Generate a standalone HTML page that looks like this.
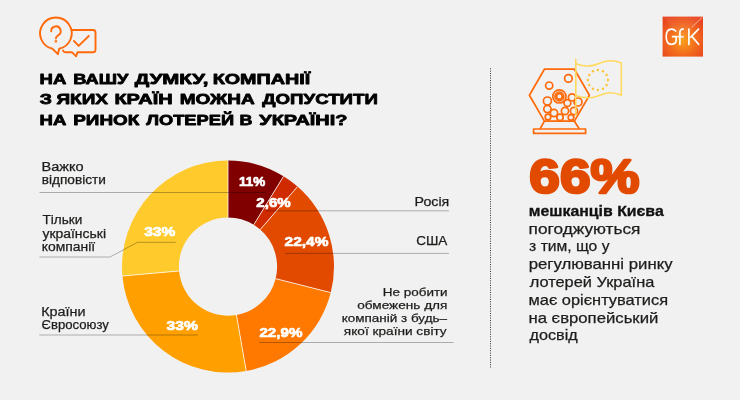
<!DOCTYPE html>
<html lang="uk"><head><meta charset="utf-8"><title>GfK</title>
<style>html,body{margin:0;padding:0;background:#f1f1f1;}body{width:740px;height:400px;overflow:hidden;font-family:"Liberation Sans",sans-serif;}svg{display:block;will-change:transform;}text{font-family:"Liberation Sans",sans-serif;}</style>
</head><body>
<svg width="740" height="400" viewBox="0 0 740 400">
<defs><radialGradient id="gfk" cx="50%" cy="60%" r="65%"><stop offset="0" stop-color="#f9a01b"/><stop offset="0.55" stop-color="#f26a1e"/><stop offset="1" stop-color="#e8451e"/></radialGradient></defs>
<rect width="740" height="400" fill="#f1f1f1"/>
<path d="M228.00 160.60A106.00 106.00 0 0 1 283.54 176.32L253.73 224.78A49.10 49.10 0 0 0 228.00 217.50Z" fill="#800000"/>
<path d="M283.54 176.32A106.00 106.00 0 0 1 297.54 186.60L260.21 229.54A49.10 49.10 0 0 0 253.73 224.78Z" fill="#cf2a00"/>
<path d="M297.54 186.60A106.00 106.00 0 0 1 330.76 292.60L275.60 278.64A49.10 49.10 0 0 0 260.21 229.54Z" fill="#e24a00"/>
<path d="M330.76 292.60A106.00 106.00 0 0 1 246.22 371.02L236.44 314.97A49.10 49.10 0 0 0 275.60 278.64Z" fill="#ff7800"/>
<path d="M246.22 371.02A106.00 106.00 0 0 1 122.42 276.02L179.09 270.96A49.10 49.10 0 0 0 236.44 314.97Z" fill="#ffa000"/>
<path d="M122.42 276.02A106.00 106.00 0 0 1 228.00 160.60L228.00 217.50A49.10 49.10 0 0 0 179.09 270.96Z" fill="#ffca2c"/>
<line x1="228.00" y1="160.60" x2="228.00" y2="217.50" stroke="#fff" stroke-width="0.9" stroke-opacity="0.85"/>
<line x1="283.54" y1="176.32" x2="253.73" y2="224.78" stroke="#fff" stroke-width="0.9" stroke-opacity="0.85"/>
<line x1="297.54" y1="186.60" x2="260.21" y2="229.54" stroke="#fff" stroke-width="0.9" stroke-opacity="0.85"/>
<line x1="330.76" y1="292.60" x2="275.60" y2="278.64" stroke="#fff" stroke-width="0.9" stroke-opacity="0.85"/>
<line x1="246.22" y1="371.02" x2="236.44" y2="314.97" stroke="#fff" stroke-width="0.9" stroke-opacity="0.85"/>
<line x1="122.42" y1="276.02" x2="179.09" y2="270.96" stroke="#fff" stroke-width="0.9" stroke-opacity="0.85"/>
<path d="M39.5 192.5H265.8" stroke="#000" stroke-width="0.8" stroke-opacity="0.36" fill="none"/>
<path d="M39.4 257H110L137.5 242.3H175.7" stroke="#000" stroke-width="0.8" stroke-opacity="0.36" fill="none"/>
<path d="M39.3 335H197.8" stroke="#000" stroke-width="0.8" stroke-opacity="0.36" fill="none"/>
<path d="M265.8 210.8H449" stroke="#000" stroke-width="0.8" stroke-opacity="0.36" fill="none"/>
<path d="M285 253.4H449" stroke="#000" stroke-width="0.8" stroke-opacity="0.36" fill="none"/>
<path d="M259.4 342.5H453.6" stroke="#000" stroke-width="0.8" stroke-opacity="0.36" fill="none"/>
<text x="39.53" y="83.50" font-size="15.00" font-weight="bold" fill="#000" textLength="26.77" lengthAdjust="spacingAndGlyphs" stroke="#000" stroke-width="0.80" stroke-linejoin="round">НА</text>
<text x="73.29" y="83.50" font-size="15.00" font-weight="bold" fill="#000" textLength="54.98" lengthAdjust="spacingAndGlyphs" stroke="#000" stroke-width="0.80" stroke-linejoin="round">ВАШУ</text>
<text x="134.89" y="83.50" font-size="15.00" font-weight="bold" fill="#000" textLength="73.54" lengthAdjust="spacingAndGlyphs" stroke="#000" stroke-width="0.80" stroke-linejoin="round">ДУМКУ,</text>
<text x="212.70" y="83.50" font-size="15.00" font-weight="bold" fill="#000" textLength="97.55" lengthAdjust="spacingAndGlyphs" stroke="#000" stroke-width="0.80" stroke-linejoin="round">КОМПАНІЇ</text>
<text x="39.75" y="104.30" font-size="15.00" font-weight="bold" fill="#000" textLength="12.18" lengthAdjust="spacingAndGlyphs" stroke="#000" stroke-width="0.80" stroke-linejoin="round">З</text>
<text x="56.42" y="104.30" font-size="15.00" font-weight="bold" fill="#000" textLength="51.56" lengthAdjust="spacingAndGlyphs" stroke="#000" stroke-width="0.80" stroke-linejoin="round">ЯКИХ</text>
<text x="114.41" y="104.30" font-size="15.00" font-weight="bold" fill="#000" textLength="58.21" lengthAdjust="spacingAndGlyphs" stroke="#000" stroke-width="0.80" stroke-linejoin="round">КРАЇН</text>
<text x="179.73" y="104.30" font-size="15.00" font-weight="bold" fill="#000" textLength="75.05" lengthAdjust="spacingAndGlyphs" stroke="#000" stroke-width="0.80" stroke-linejoin="round">МОЖНА</text>
<text x="262.26" y="104.30" font-size="15.00" font-weight="bold" fill="#000" textLength="115.58" lengthAdjust="spacingAndGlyphs" stroke="#000" stroke-width="0.80" stroke-linejoin="round">ДОПУСТИТИ</text>
<text x="39.53" y="125.10" font-size="15.00" font-weight="bold" fill="#000" textLength="26.77" lengthAdjust="spacingAndGlyphs" stroke="#000" stroke-width="0.80" stroke-linejoin="round">НА</text>
<text x="73.24" y="125.10" font-size="15.00" font-weight="bold" fill="#000" textLength="66.04" lengthAdjust="spacingAndGlyphs" stroke="#000" stroke-width="0.80" stroke-linejoin="round">РИНОК</text>
<text x="146.17" y="125.10" font-size="15.00" font-weight="bold" fill="#000" textLength="87.88" lengthAdjust="spacingAndGlyphs" stroke="#000" stroke-width="0.80" stroke-linejoin="round">ЛОТЕРЕЙ</text>
<text x="239.44" y="125.10" font-size="15.00" font-weight="bold" fill="#000" textLength="12.89" lengthAdjust="spacingAndGlyphs" stroke="#000" stroke-width="0.80" stroke-linejoin="round">В</text>
<text x="259.32" y="125.10" font-size="15.00" font-weight="bold" fill="#000" textLength="88.06" lengthAdjust="spacingAndGlyphs" stroke="#000" stroke-width="0.80" stroke-linejoin="round">УКРАЇНІ?</text>
<text x="41.59" y="170.50" font-size="12.30" font-weight="normal" fill="#1d1d1b" textLength="42.10" lengthAdjust="spacingAndGlyphs" stroke="#1d1d1b" stroke-width="0.25" stroke-linejoin="round">Важко</text>
<text x="41.72" y="183.75" font-size="12.30" font-weight="normal" fill="#1d1d1b" textLength="64.16" lengthAdjust="spacingAndGlyphs" stroke="#1d1d1b" stroke-width="0.25" stroke-linejoin="round">відповісти</text>
<text x="42.44" y="223.80" font-size="12.30" font-weight="normal" fill="#1d1d1b" textLength="39.77" lengthAdjust="spacingAndGlyphs" stroke="#1d1d1b" stroke-width="0.25" stroke-linejoin="round">Тільки</text>
<text x="42.41" y="237.50" font-size="12.30" font-weight="normal" fill="#1d1d1b" textLength="63.60" lengthAdjust="spacingAndGlyphs" stroke="#1d1d1b" stroke-width="0.25" stroke-linejoin="round">українські</text>
<text x="41.70" y="250.60" font-size="12.30" font-weight="normal" fill="#1d1d1b" textLength="53.39" lengthAdjust="spacingAndGlyphs" stroke="#1d1d1b" stroke-width="0.25" stroke-linejoin="round">компанії</text>
<text x="41.21" y="315.50" font-size="12.30" font-weight="normal" fill="#1d1d1b" textLength="44.35" lengthAdjust="spacingAndGlyphs" stroke="#1d1d1b" stroke-width="0.25" stroke-linejoin="round">Країни</text>
<text x="41.56" y="328.90" font-size="12.30" font-weight="normal" fill="#1d1d1b" textLength="67.38" lengthAdjust="spacingAndGlyphs" stroke="#1d1d1b" stroke-width="0.25" stroke-linejoin="round">Євросоюзу</text>
<text x="414.64" y="206.00" font-size="12.30" font-weight="normal" fill="#1d1d1b" textLength="34.69" lengthAdjust="spacingAndGlyphs" stroke="#1d1d1b" stroke-width="0.25" stroke-linejoin="round">Росія</text>
<text x="416.20" y="245.00" font-size="12.30" font-weight="normal" fill="#1d1d1b" textLength="31.17" lengthAdjust="spacingAndGlyphs" stroke="#1d1d1b" stroke-width="0.25" stroke-linejoin="round">США</text>
<text x="382.75" y="296.00" font-size="11.80" font-weight="normal" fill="#1d1d1b" textLength="64.89" lengthAdjust="spacingAndGlyphs" stroke="#1d1d1b" stroke-width="0.25" stroke-linejoin="round">Не робити</text>
<text x="357.23" y="309.40" font-size="11.80" font-weight="normal" fill="#1d1d1b" textLength="90.19" lengthAdjust="spacingAndGlyphs" stroke="#1d1d1b" stroke-width="0.25" stroke-linejoin="round">обмежень для</text>
<text x="341.77" y="322.40" font-size="11.80" font-weight="normal" fill="#1d1d1b" textLength="105.23" lengthAdjust="spacingAndGlyphs" stroke="#1d1d1b" stroke-width="0.25" stroke-linejoin="round">компаній з будь–</text>
<text x="343.85" y="335.30" font-size="11.80" font-weight="normal" fill="#1d1d1b" textLength="102.84" lengthAdjust="spacingAndGlyphs" stroke="#1d1d1b" stroke-width="0.25" stroke-linejoin="round">якої країни світу</text>
<text x="238.92" y="186.25" font-size="13.60" font-weight="bold" fill="#fff" textLength="26.24" lengthAdjust="spacingAndGlyphs" stroke="#fff" stroke-width="0.70" stroke-linejoin="round">11%</text>
<text x="256.35" y="207.10" font-size="13.20" font-weight="bold" fill="#fff" textLength="34.35" lengthAdjust="spacingAndGlyphs" stroke="#fff" stroke-width="0.70" stroke-linejoin="round">2,6%</text>
<text x="284.64" y="246.25" font-size="13.60" font-weight="bold" fill="#fff" textLength="43.77" lengthAdjust="spacingAndGlyphs" stroke="#fff" stroke-width="0.70" stroke-linejoin="round">22,4%</text>
<text x="259.43" y="336.80" font-size="13.60" font-weight="bold" fill="#fff" textLength="42.94" lengthAdjust="spacingAndGlyphs" stroke="#fff" stroke-width="0.70" stroke-linejoin="round">22,9%</text>
<text x="166.60" y="329.70" font-size="13.60" font-weight="bold" fill="#fff" textLength="31.22" lengthAdjust="spacingAndGlyphs" stroke="#fff" stroke-width="0.70" stroke-linejoin="round">33%</text>
<text x="144.24" y="236.40" font-size="13.60" font-weight="bold" fill="#fff" textLength="31.08" lengthAdjust="spacingAndGlyphs" stroke="#fff" stroke-width="0.70" stroke-linejoin="round">33%</text>
<text x="529.38" y="192.60" font-size="49.00" font-weight="bold" fill="#e24a00" textLength="110.17" lengthAdjust="spacingAndGlyphs" stroke="#e24a00" stroke-width="2.60" stroke-linejoin="round">66%</text>
<text x="528.75" y="216.25" font-size="14.80" font-weight="bold" fill="#111" textLength="134.97" lengthAdjust="spacingAndGlyphs" stroke="#111" stroke-width="0.30" stroke-linejoin="round">мешканців Києва</text>
<text x="528.58" y="233.75" font-size="14.80" font-weight="normal" fill="#1d1d1b" textLength="111.89" lengthAdjust="spacingAndGlyphs" stroke="#1d1d1b" stroke-width="0.25" stroke-linejoin="round">погоджуються</text>
<text x="529.14" y="251.25" font-size="14.80" font-weight="normal" fill="#1d1d1b" textLength="80.36" lengthAdjust="spacingAndGlyphs" stroke="#1d1d1b" stroke-width="0.25" stroke-linejoin="round">з тим, що у</text>
<text x="528.66" y="269.25" font-size="14.80" font-weight="normal" fill="#1d1d1b" textLength="143.94" lengthAdjust="spacingAndGlyphs" stroke="#1d1d1b" stroke-width="0.25" stroke-linejoin="round">регулюванні ринку</text>
<text x="529.68" y="287.00" font-size="14.80" font-weight="normal" fill="#1d1d1b" textLength="124.62" lengthAdjust="spacingAndGlyphs" stroke="#1d1d1b" stroke-width="0.25" stroke-linejoin="round">лотерей Україна</text>
<text x="528.52" y="304.50" font-size="14.80" font-weight="normal" fill="#1d1d1b" textLength="139.58" lengthAdjust="spacingAndGlyphs" stroke="#1d1d1b" stroke-width="0.25" stroke-linejoin="round">має орієнтуватися</text>
<text x="528.44" y="322.50" font-size="14.80" font-weight="normal" fill="#1d1d1b" textLength="129.94" lengthAdjust="spacingAndGlyphs" stroke="#1d1d1b" stroke-width="0.25" stroke-linejoin="round">на європейський</text>
<text x="529.47" y="340.00" font-size="14.80" font-weight="normal" fill="#1d1d1b" textLength="48.23" lengthAdjust="spacingAndGlyphs" stroke="#1d1d1b" stroke-width="0.25" stroke-linejoin="round">досвід</text>
<line x1="490.5" y1="68.3" x2="490.5" y2="368.5" stroke="#333" stroke-width="1" stroke-dasharray="1 1.33"/>
<g fill="none" stroke="#ff6a0a" stroke-width="1.9" stroke-linecap="round" stroke-linejoin="round">
<path d="M71.9 30H93a2.5 2.5 0 0 1 2.5 2.5V49.8a2.5 2.5 0 0 1 -2.5 2.5H77.4L76.2 56.3L72.2 52.3H65.4a2.6 2.6 0 0 1 -2.4 -1.8"/>
<path d="M52.6 48.8A15.8 15.8 0 1 1 59.2 48.8L57.9 54.2L52.6 48.8Z"/>
<path d="M73.9 40.9L78.6 45.9L88.8 36"/>
<path d="M51.2 31.2A4.75 4.75 0 1 1 58.2 35.3C56.6 36.2 55.9 37.1 55.9 38.6"/>
<circle cx="55.9" cy="41.3" r="0.45" fill="#ff6a0a"/>
</g>
<rect x="662.6" y="16.6" width="40.4" height="40" fill="url(#gfk)"/>
<path d="M662.6 16.6L683 40L703 16.6Z" fill="#fff" fill-opacity="0.06"/>
<path d="M691.8 27.4L702.4 17.2" stroke="#fff" stroke-width="0.7" stroke-opacity="0.75"/>
<g fill="none" stroke="#fff" stroke-width="1.7" stroke-linecap="round" stroke-linejoin="round">
<path d="M675.6 31C674.6 29.8 673.2 29.1 671.6 29.1C668.4 29.1 666.2 32 666.2 36.7C666.2 41.4 668.4 44.3 671.6 44.3C674.4 44.3 676.2 42.4 676.2 39.6V36.7H672.6"/>
<path d="M679.9 44.4V32.4C679.9 30 681.2 28.9 683.2 29.2M678.1 36.7H681.6"/>
<circle cx="682.8" cy="36.8" r="0.3"/>
<path d="M688.9 29V44.4M698.5 29.1L690.8 37.1M691.9 36.4L698.6 44.3"/>
</g>
<g fill="none" stroke="#ff6a0a" stroke-width="1.7" stroke-linejoin="round">
<polygon points="529.40,95.20 544.40,69.22 574.40,69.22 589.40,95.20 574.40,121.18 544.40,121.18"/>
<path d="M544.40 121.18L540 129M574.40 121.18L579.4 129"/>
<rect x="533.6" y="129" width="52" height="4.4"/>
<circle cx="568.4" cy="78.4" r="3.8"/>
<circle cx="549.2" cy="85.6" r="3.6"/>
<circle cx="559.4" cy="96.4" r="6.6"/>
<circle cx="559.4" cy="96.4" r="4.4"/>
<circle cx="559.4" cy="96.4" r="2.8"/>
<circle cx="547.4" cy="101.0" r="4.0"/>
<circle cx="572.0" cy="97.4" r="3.6"/>
<circle cx="578.0" cy="102.0" r="4.0"/>
<circle cx="567.4" cy="103.0" r="3.4"/>
<circle cx="547.4" cy="109.0" r="3.6"/>
<circle cx="554.0" cy="113.0" r="3.6"/>
<circle cx="565.0" cy="111.0" r="3.6"/>
<circle cx="574.0" cy="111.0" r="3.6"/>
<circle cx="548.0" cy="117.0" r="2.8"/>
<circle cx="560.0" cy="117.4" r="3.2"/>
<circle cx="571.0" cy="117.4" r="2.8"/>
</g>
<g fill="none" stroke="#ffd95e" stroke-width="1.6" stroke-linejoin="round" stroke-linecap="round">
<path d="M575.8 59.4V115.3"/>
<path d="M575.8 63.7C582 66 587 66.6 592 65.6C598 64.4 603 61.2 609.6 60.8C614 60.6 618 61.6 621.3 62.9V95.2C618 93.8 614 92.6 610 92.7C603.5 93 598.5 96.4 592.5 97.5C587 98.4 582 97.8 575.8 95.6"/>
</g>
<circle cx="597.90" cy="69.95" r="1.2" fill="#ffc233"/>
<circle cx="602.92" cy="71.30" r="1.2" fill="#ffc233"/>
<circle cx="606.60" cy="74.97" r="1.2" fill="#ffc233"/>
<circle cx="607.95" cy="80.00" r="1.2" fill="#ffc233"/>
<circle cx="606.60" cy="85.02" r="1.2" fill="#ffc233"/>
<circle cx="602.92" cy="88.70" r="1.2" fill="#ffc233"/>
<circle cx="597.90" cy="90.05" r="1.2" fill="#ffc233"/>
<circle cx="592.88" cy="88.70" r="1.2" fill="#ffc233"/>
<circle cx="589.20" cy="85.03" r="1.2" fill="#ffc233"/>
<circle cx="587.85" cy="80.00" r="1.2" fill="#ffc233"/>
<circle cx="589.20" cy="74.97" r="1.2" fill="#ffc233"/>
<circle cx="592.88" cy="71.30" r="1.2" fill="#ffc233"/>
</svg></body></html>
